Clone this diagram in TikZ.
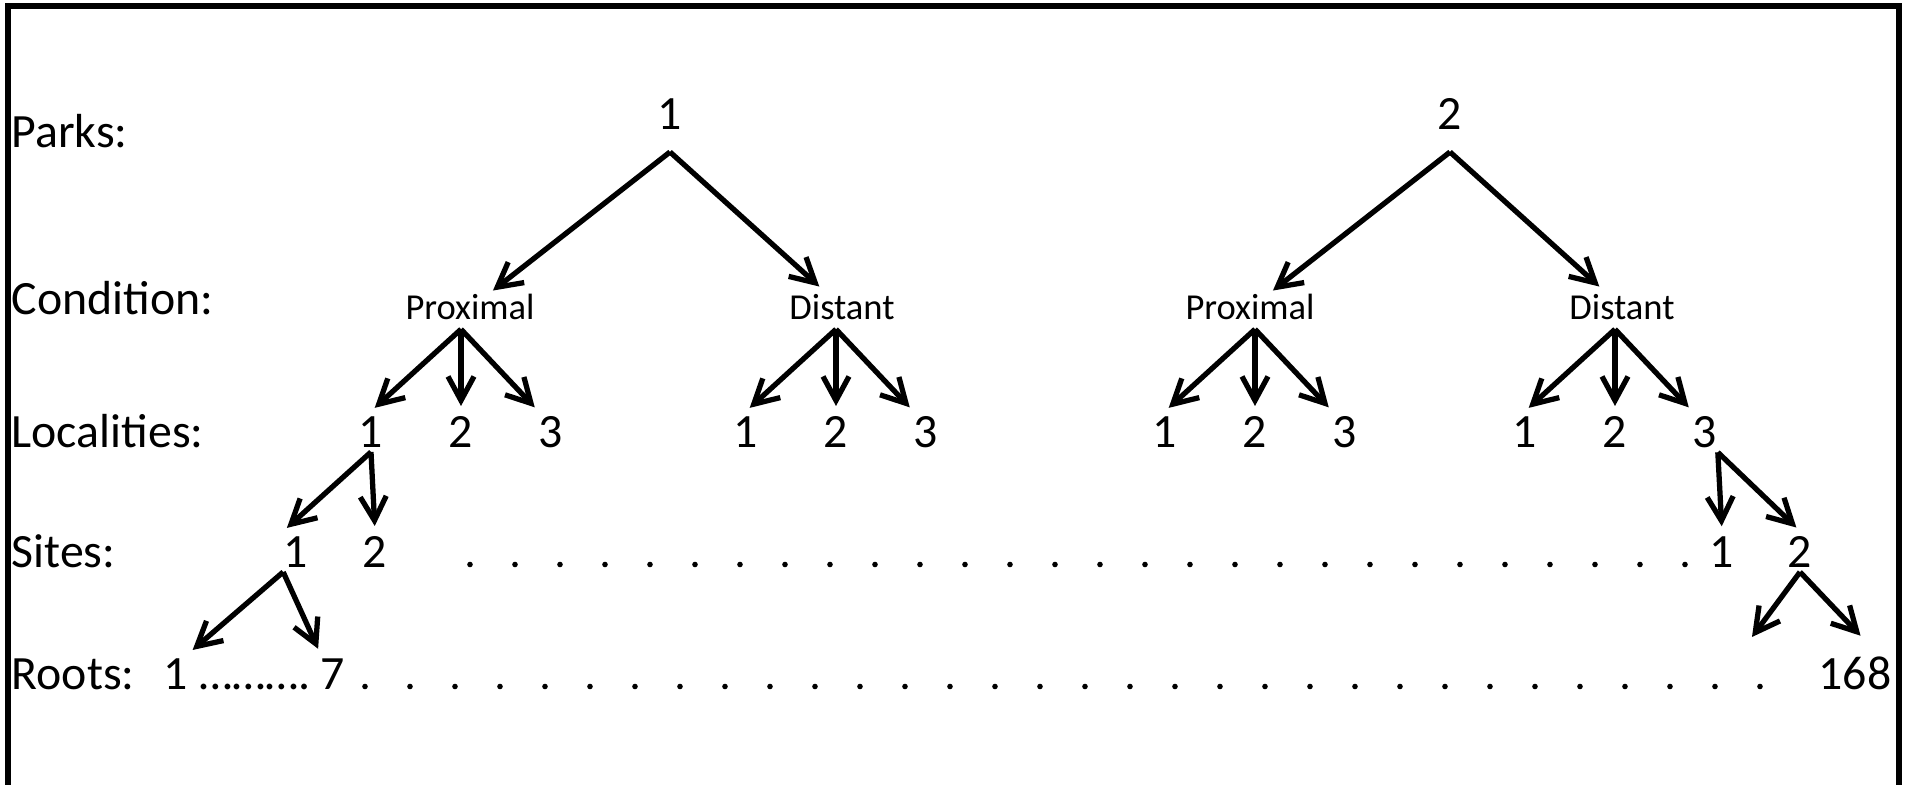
\documentclass[tikz,border=0pt]{standalone}
\usepackage{fontspec}
\setmainfont{Carlito}
\usetikzlibrary{arrows.meta}

\newcommand{\bigfont}{\fontsize{13.6pt}{16pt}\selectfont}
\newcommand{\smallfont}{\fontsize{10.4pt}{12pt}\selectfont}

\tikzset{
  lbl/.style={font=\bigfont, anchor=base west, inner sep=0pt},
  num/.style={font=\bigfont, anchor=base, inner sep=0pt, outer ysep=0.5mm},
  park/.style={num, outer ysep=2.3mm},
  cond/.style={font=\smallfont, anchor=base, inner sep=0pt, outer ysep=1mm},
  arr/.style={-{Straight Barb[length=2.4mm,width=2.6mm]}, line width=1.5pt, shorten >=0.5mm},
}

\begin{document}
\begin{tikzpicture}
  \useasboundingbox (0,0) rectangle (19.07,7.84);
  % frame, open at the bottom
  \draw[line width=1.9pt] (0.08,-0.1) -- (0.08,7.78) -- (18.99,7.78) -- (18.99,-0.1);

  % row labels
  \node[lbl] (parks) at (0.11,6.37) {Parks:};
  \node[lbl] (condition) at (0.11,4.70) {Condition:};
  \node[lbl] (localities) at (0.11,3.37) {Localities:};
  \node[lbl] (sites) at (0.11,2.17) {Sites:};
  \node[lbl] (roots) at (0.11,0.95) {Roots:};

  % parks and conditions
  \node[park] (park1) at (6.70,6.55) {1};
  \node[park] (park2) at (14.50,6.55) {2};
  \node[cond] (prox1) at (4.70,4.65) {Proximal};
  \node[cond] (dist1) at (8.42,4.65) {Distant};
  \node[cond] (prox2) at (12.50,4.65) {Proximal};
  \node[cond] (dist2) at (16.22,4.65) {Distant};

  % localities, three under each condition
  \foreach \c/\x in {prox1/3.71, dist1/7.46, prox2/11.65, dist2/15.25}
    \foreach \i in {1,2,3}
      \node[num] (\c l\i) at ({\x+0.9*(\i-1)},3.37) {\i};

  % sites
  \node[num] (sitel1) at (2.96,2.17) {1};
  \node[num] (sitel2) at (3.75,2.17) {2};
  \node[num] (siter1) at (17.22,2.17) {1};
  \node[num] (siter2) at (18.00,2.17) {2};
  \foreach \i in {0,...,27}
    \fill (4.70+0.45*\i,2.195) circle (0.028);

  % roots
  \node[num] (root1) at (1.76,0.95) {1};
  \node[num] (rootdots) at (2.55,0.95) {……….};
  \node[num] (root7) at (3.33,0.95) {7};
  \node[num] (root168) at (18.55,0.95) {168};
  \coordinate (root167) at (17.49,1.43);
  \foreach \i in {0,...,31}
    \fill (3.65+0.45*\i,0.975) circle (0.028);

  % arrows
  \draw[arr] (park1.south) -- ([xshift=1.9mm,yshift=-1mm]prox1.north);
  \draw[arr] (park1.south) -- ([xshift=-1.9mm,yshift=-0.6mm]dist1.north);
  \draw[arr] (park2.south) -- ([xshift=1.9mm,yshift=-1mm]prox2.north);
  \draw[arr] (park2.south) -- ([xshift=-1.9mm,yshift=-0.6mm]dist2.north);
  \foreach \c in {prox1,dist1,prox2,dist2}{
    \draw[arr] (\c.south -| \c l2) -- (\c l1.north);
    \draw[arr] (\c.south -| \c l2) -- (\c l2.north);
    \draw[arr] (\c.south -| \c l2) -- (\c l3.north west);
  }
  \draw[arr] (prox1l1.south) -- (sitel1.north west);
  \draw[arr] (prox1l1.south) -- (sitel2.north);
  \draw[arr] (sitel1.south west) -- (root1.north east);
  \draw[arr] (sitel1.south west) -- (root7.north west);
  \draw[arr] (dist2l3.south east) -- (siter1.north);
  \draw[arr] (dist2l3.south east) -- (siter2.north);
  \draw[arr] (siter2.south) -- (root167);
  \draw[arr] (siter2.south) -- ([xshift=0.9mm,yshift=1.2mm]root168.north);
\end{tikzpicture}
\end{document}
